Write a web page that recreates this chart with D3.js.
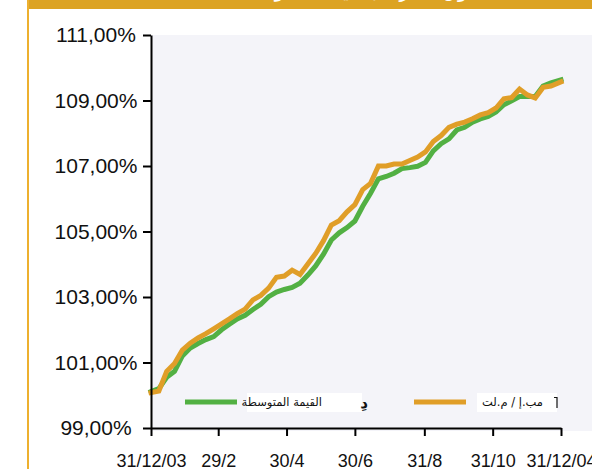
<!DOCTYPE html>
<html><head><meta charset="utf-8">
<script src="https://cdn.jsdelivr.net/npm/d3@7"></script>
<style>
html,body{margin:0;padding:0;background:#fff;overflow:hidden}
svg{display:block}
</style></head>
<body>
<svg id="c" width="592" height="469"></svg>
<script>
// ---- data ----
const startDate = "2003-12-31";
const endDate = "2004-12-31";
const tickDates = ["2003-12-31","2004-02-29","2004-04-30","2004-06-30","2004-08-31","2004-10-31","2004-12-31"];
const tickLabels = ["31/12/03","29/2","30/4","30/6","31/8","31/10","31/12/04"];
const yTicks = [99,101,103,105,107,109,111];
const seriesNames = ["القيمة المتوسطة", "مب.إ / م.لت"];
const avgValues = [100.11,100.20,100.55,100.73,101.20,101.44,101.58,101.70,101.79,102.00,
  102.17,102.33,102.44,102.62,102.78,103.01,103.15,103.23,103.29,103.42,
  103.67,103.95,104.31,104.74,104.96,105.12,105.32,105.77,106.17,106.61,
  106.68,106.78,106.92,106.95,106.99,107.11,107.46,107.68,107.83,108.10,
  108.18,108.34,108.44,108.51,108.65,108.87,108.99,109.12,109.12,109.12,
  109.44,109.54,109.63];
const fundValues = [100.08,100.13,100.73,100.97,101.38,101.59,101.75,101.88,102.03,102.18,
  102.33,102.49,102.63,102.91,103.05,103.27,103.60,103.64,103.82,103.69,
  104.01,104.33,104.72,105.20,105.33,105.60,105.82,106.28,106.47,107.00,
  107.00,107.06,107.06,107.17,107.27,107.43,107.75,107.93,108.18,108.28,
  108.34,108.44,108.56,108.63,108.77,109.05,109.09,109.35,109.17,109.08,
  109.40,109.44,109.57];
const titleText = "أداء الصندوق مقارنة بالقيمة المتوسطة";

// ---- setup ----
const parse = d3.timeParse("%Y-%m-%d");
const t0 = parse(startDate), t1 = parse(endDate);
const dates = avgValues.map((_, i) => i === avgValues.length - 1 ? t1 : d3.timeDay.offset(t0, 7 * i));

const svg = d3.select("#c");
const x = d3.scaleTime().domain([t0, t1]).range([151, 561]);
const y = d3.scaleLinear().domain([99, 111]).range([428, 35]);

// header bar + left rule
svg.append("rect").attr("x", 27).attr("y", 0).attr("width", 565).attr("height", 9).attr("fill", "#DCA323");
svg.append("rect").attr("x", 27).attr("y", 0).attr("width", 2).attr("height", 469).attr("fill", "#EDB02F");
svg.append("text").attr("x", 390).attr("y", -3).attr("text-anchor", "middle")
  .attr("direction", "rtl")
  .attr("font-family", "'DejaVu Sans', sans-serif").attr("font-size", 20)
  .attr("fill", "#fff").text(titleText);

// plot background
svg.append("rect").attr("x", 151).attr("y", 35).attr("width", 441).attr("height", 396).attr("fill", "#F4F4F9");

// lines
const line = d3.line().x((d, i) => x(dates[i])).y(d => y(d)).curve(d3.curveLinear);
svg.append("path").datum(avgValues).attr("d", line)
  .attr("fill", "none").attr("stroke", "#52B043").attr("stroke-width", 5)
  .attr("stroke-linejoin", "miter").attr("stroke-linecap", "square");
svg.append("path").datum(fundValues).attr("d", line)
  .attr("fill", "none").attr("stroke", "#E09E28").attr("stroke-width", 5)
  .attr("stroke-linejoin", "miter").attr("stroke-linecap", "square");

// legend
const legY = 402;
const legFont = "'DejaVu Sans', 'Noto Sans', sans-serif";
svg.append("line").attr("x1", 185).attr("x2", 237).attr("y1", legY).attr("y2", legY)
  .attr("stroke", "#52B043").attr("stroke-width", 5);
svg.append("rect").attr("x", 247).attr("y", 393).attr("width", 115).attr("height", 19).attr("fill", "#fff");
svg.append("text").attr("x", 322).attr("y", 406).attr("text-anchor", "start").attr("direction", "rtl")
  .attr("font-family", legFont).attr("font-size", 11.5).attr("fill", "#111")
  .text(seriesNames[0]);
svg.append("text").attr("x", 364).attr("y", 408).attr("text-anchor", "middle")
  .attr("font-family", legFont).attr("font-size", 15).attr("font-weight", "bold").attr("fill", "#111")
  .text("دِ");

svg.append("line").attr("x1", 414).attr("x2", 466).attr("y1", legY).attr("y2", legY)
  .attr("stroke", "#E09E28").attr("stroke-width", 5);
svg.append("rect").attr("x", 477).attr("y", 393).attr("width", 80).attr("height", 19).attr("fill", "#fff");
svg.append("text").attr("x", 543).attr("y", 406).attr("text-anchor", "start").attr("direction", "rtl")
  .attr("font-family", legFont).attr("font-size", 11.5).attr("fill", "#111")
  .text(seriesNames[1]);
svg.append("path").attr("d", "M554,397.5H557V408").attr("fill", "none").attr("stroke", "#111").attr("stroke-width", 1.2);

// axes
const fmtY = d => d.toFixed(2).replace(".", ",") + "%";
const yAxis = d3.axisLeft(y).tickValues(yTicks).tickFormat(fmtY).tickSize(8).tickSizeOuter(0);
const gy = svg.append("g").attr("transform", "translate(151,0)").call(yAxis);
gy.select(".domain").attr("stroke", "#000").attr("stroke-width", 2);
gy.selectAll(".tick line").attr("stroke", "#000").attr("stroke-width", 2);
gy.selectAll(".tick text").attr("x", -55).attr("text-anchor", "middle")
  .attr("font-family", "'Liberation Sans', Arial, sans-serif").attr("font-size", 21).attr("fill", "#111");

const xAxis = d3.axisBottom(x).tickValues(tickDates.map(parse))
  .tickFormat((d, i) => tickLabels[i]).tickSize(8).tickSizeOuter(0);
const gx = svg.append("g").attr("transform", "translate(0,428)").call(xAxis);
gx.select(".domain").attr("stroke", "#000").attr("stroke-width", 2);
gx.selectAll(".tick line").attr("stroke", "#000").attr("stroke-width", 2);
gx.selectAll(".tick text").attr("y", 39).attr("dy", 0)
  .attr("font-family", "'Liberation Sans', Arial, sans-serif").attr("font-size", 18).attr("fill", "#111");
</script>
</body></html>
